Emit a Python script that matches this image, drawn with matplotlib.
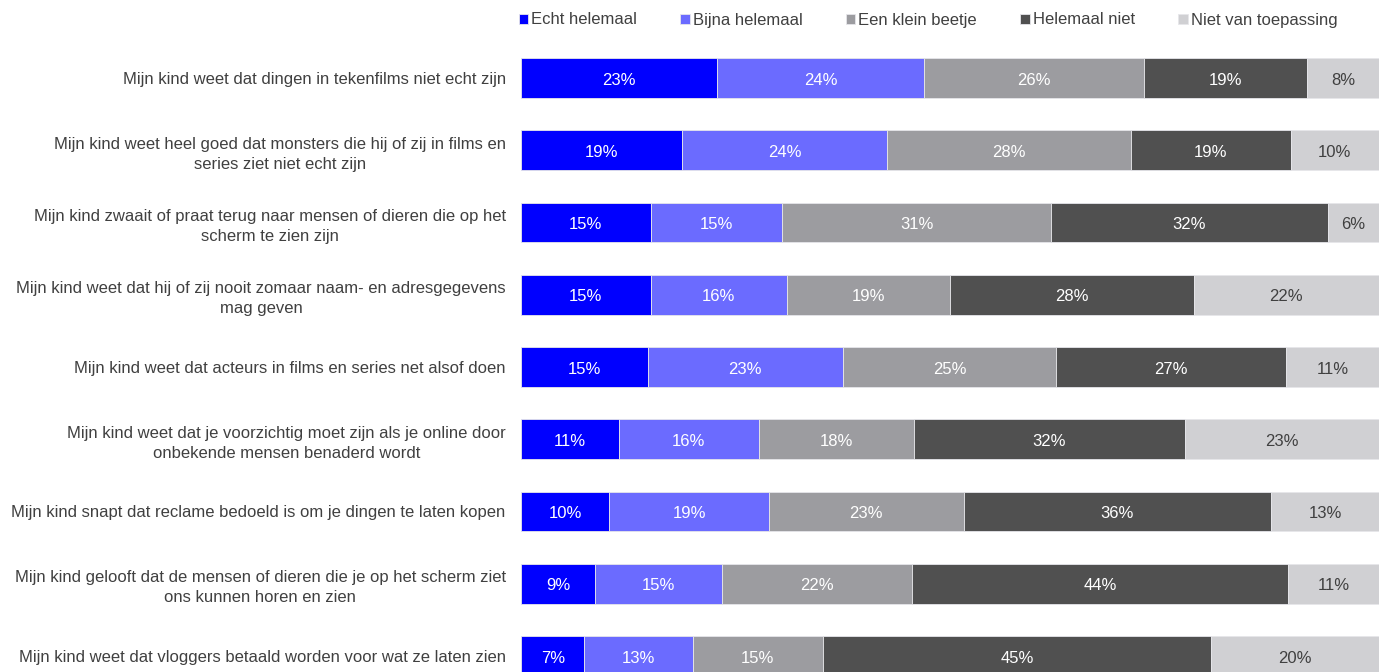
import matplotlib
matplotlib.use("Agg")
import matplotlib.pyplot as plt
import numpy as np

plt.rcParams['font.family'] = ['Liberation Sans', 'DejaVu Sans']

# survey statements (top to bottom)
statements = [
    "Mijn kind weet dat dingen in tekenfilms niet echt zijn",
    "Mijn kind weet heel goed dat monsters die hij of zij in films en\nseries ziet niet echt zijn",
    "Mijn kind zwaait of praat terug naar mensen of dieren die op het\nscherm te zien zijn",
    "Mijn kind weet dat hij of zij nooit zomaar naam- en adresgegevens\nmag geven",
    "Mijn kind weet dat acteurs in films en series net alsof doen",
    "Mijn kind weet dat je voorzichtig moet zijn als je online door\nonbekende mensen benaderd wordt",
    "Mijn kind snapt dat reclame bedoeld is om je dingen te laten kopen",
    "Mijn kind gelooft dat de mensen of dieren die je op het scherm ziet\nons kunnen horen en zien",
    "Mijn kind weet dat vloggers betaald worden voor wat ze laten zien",
]

answers = ["Echt helemaal", "Bijna helemaal", "Een klein beetje", "Helemaal niet", "Niet van toepassing"]

# percentages per answer, one value per statement
echt_helemaal = [22.8, 18.8, 15.1, 15.1, 14.8, 11.4, 10.3, 8.6, 7.4]
bijna_helemaal = [24.2, 23.9, 15.3, 15.9, 22.7, 16.3, 18.6, 14.8, 12.6]
klein_beetje = [25.6, 28.4, 31.4, 19.0, 24.9, 18.1, 22.7, 22.2, 15.2]
helemaal_niet = [19.0, 18.6, 32.2, 28.4, 26.8, 31.6, 35.8, 43.8, 45.2]
niet_van_toepassing = [8.4, 10.3, 6.0, 21.6, 10.8, 22.6, 12.6, 10.6, 19.6]

series = [echt_helemaal, bijna_helemaal, klein_beetje, helemaal_niet, niet_van_toepassing]
colors = ["#0000FF", "#6B6BFF", "#9C9CA0", "#505050", "#D0D0D3"]
text_colors = ["white", "white", "white", "white", "#404040"]

W, H = 1384, 672
fig = plt.figure(figsize=(W / 100, H / 100), dpi=100)
# axes spans rows; last bar is cut by the bottom edge like in the original
top_px, bot_px = 42, 692
ax = fig.add_axes([521 / W, (H - bot_px) / H, (1379 - 521) / W, (bot_px - top_px) / H])

y = np.arange(len(statements))
left = np.zeros(len(statements))
for vals, col, tcol, name in zip(series, colors, text_colors, answers):
    vals = np.array(vals)
    ax.barh(y, vals, left=left, height=0.55, color=col, edgecolor="#E6E6EA",
            linewidth=0.6, label=name)
    for yi, l, v in zip(y, left, vals):
        ax.text(l + v / 2, yi + 0.03, f"{round(v)}%", ha="center", va="center",
                color=tcol, fontsize=12)
    left += vals

ax.set_xlim(0, 100)
ax.set_ylim(len(statements) - 0.5, -0.5)
ax.set_yticks(y)
ax.set_yticklabels(statements, fontsize=12, color="#404040")
for t in ax.get_yticklabels():
    t.set_multialignment("center")
    t.set_linespacing(1.4)
ax.tick_params(axis="y", length=0, pad=11)
ax.set_xticks([])
for s in ax.spines.values():
    s.set_visible(False)

fig.legend(loc="center left", bbox_to_anchor=(512 / W, 1 - 20 / H), ncol=5, frameon=False,
           fontsize=12, handlelength=0.55, handleheight=0.55, handletextpad=0.2,
           columnspacing=2.6, labelcolor="#404040", borderaxespad=0)

fig.savefig("out.png", dpi=100)
